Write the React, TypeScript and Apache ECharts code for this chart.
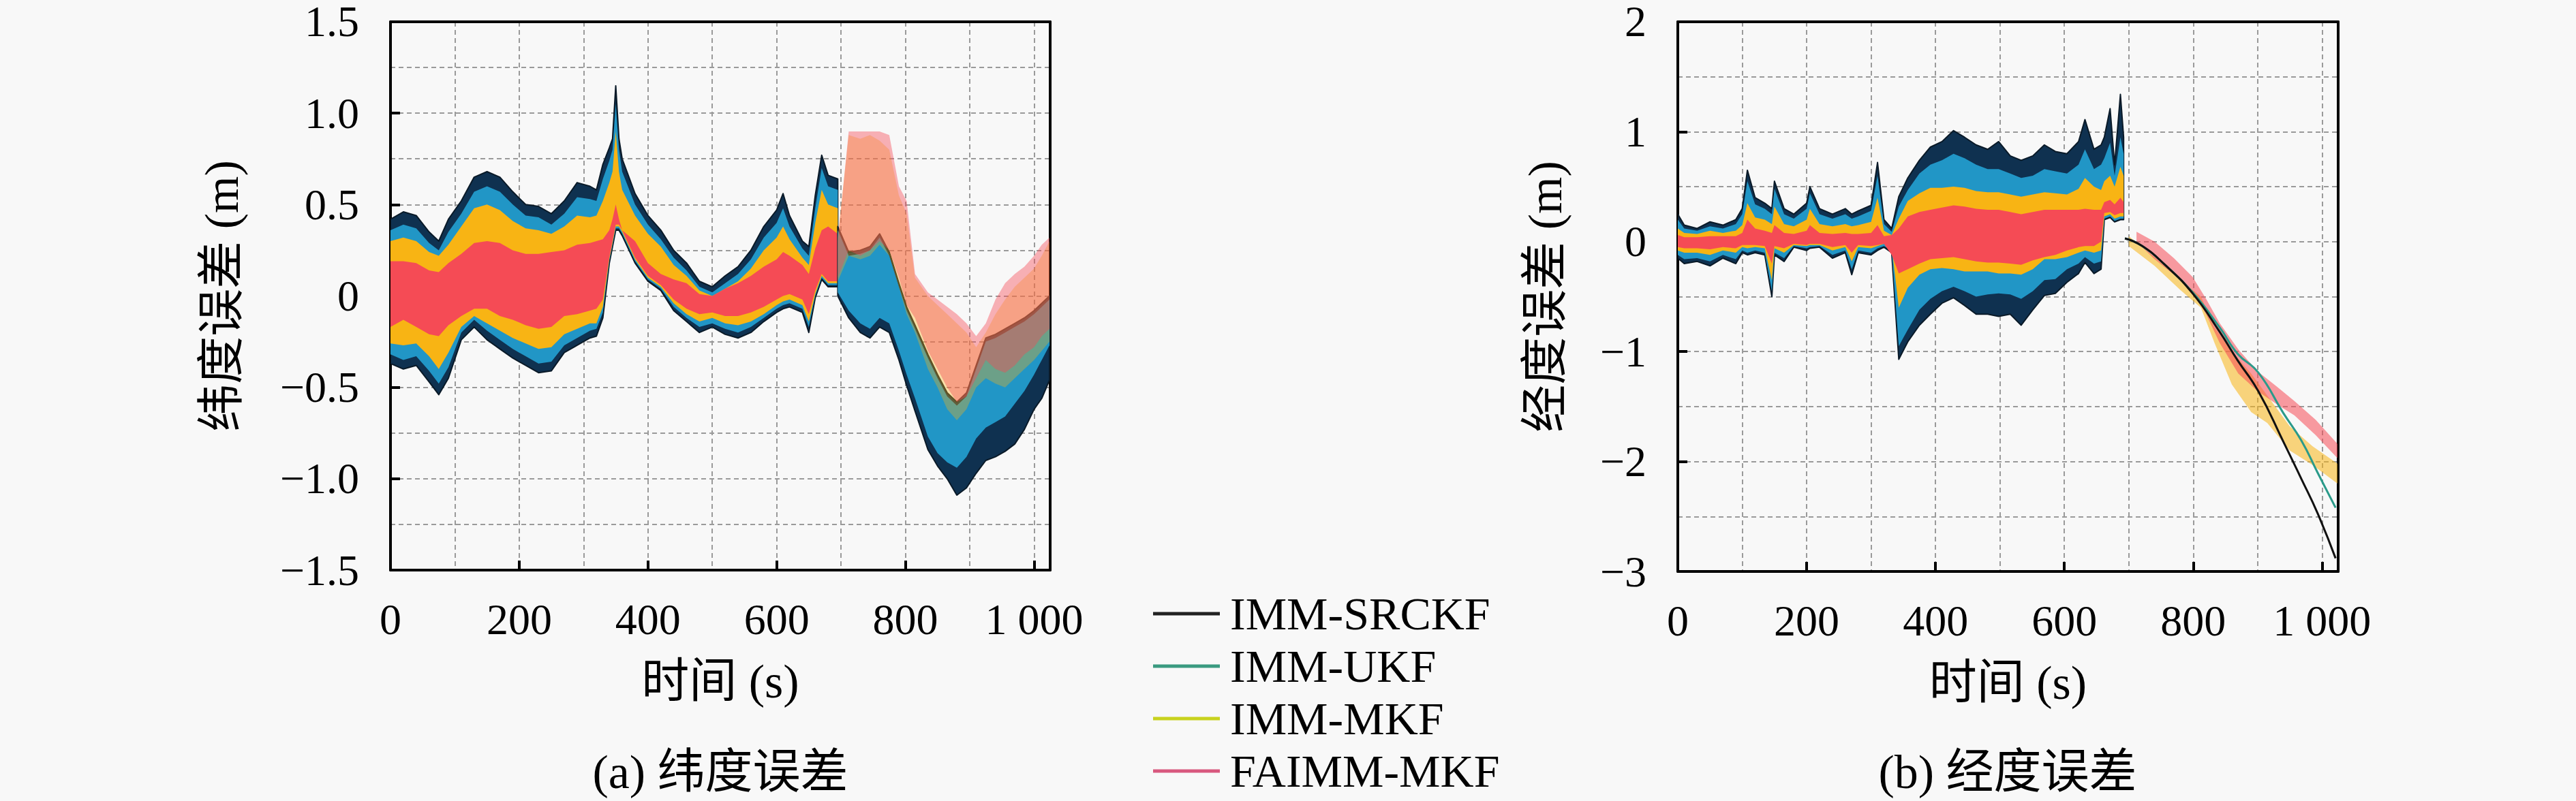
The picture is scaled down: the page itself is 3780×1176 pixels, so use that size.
import React, { useEffect, useRef } from 'react';
import * as echarts from 'echarts';

const FONT = '"Liberation Serif", "Noto Sans CJK SC", serif';

const NAMES = ['IMM-SRCKF', 'IMM-UKF', 'IMM-MKF', 'FAIMM-MKF'];
const BAND_COLORS = ['#0f3150', '#2196c6', '#f8b414', '#f54b55'];
const LEGEND_COLORS = ['#222222', '#3a9a80', '#c8d21e', '#d8587e'];
const X_TICKS = [0, 200, 400, 600, 800, 1000];

// ---------- (a) latitude error, part 1 (0–695 s) ----------
const LAT_T1 = [0, 20, 40, 60, 75, 90, 110, 130, 150, 170, 190, 210, 230, 250, 270, 290, 310, 320, 330, 340, 345, 350, 355, 360, 380, 400, 420, 440, 460, 480, 500, 520, 540, 560, 580, 600, 610, 620, 640, 650, 660, 670, 680, 695];
const LAT_SRCKF_HI1 = [0.42, 0.46, 0.44, 0.35, 0.30, 0.42, 0.52, 0.65, 0.68, 0.65, 0.57, 0.50, 0.49, 0.45, 0.52, 0.62, 0.60, 0.58, 0.72, 0.81, 0.86, 1.15, 0.86, 0.75, 0.56, 0.44, 0.36, 0.25, 0.18, 0.08, 0.05, 0.11, 0.16, 0.25, 0.38, 0.47, 0.56, 0.44, 0.30, 0.27, 0.55, 0.77, 0.66, 0.64];
const LAT_SRCKF_LO1 = [-0.37, -0.40, -0.38, -0.47, -0.54, -0.45, -0.24, -0.17, -0.24, -0.29, -0.34, -0.38, -0.42, -0.41, -0.31, -0.27, -0.23, -0.22, -0.12, 0.18, 0.27, 0.36, 0.36, 0.33, 0.18, 0.08, 0.03, -0.08, -0.14, -0.20, -0.17, -0.21, -0.23, -0.20, -0.14, -0.09, -0.07, -0.06, -0.09, -0.20, -0.01, 0.09, 0.05, 0.05];
const LAT_UKF_HI1 = [0.36, 0.39, 0.37, 0.29, 0.25, 0.35, 0.45, 0.57, 0.60, 0.57, 0.50, 0.44, 0.43, 0.39, 0.45, 0.54, 0.53, 0.52, 0.64, 0.74, 0.80, 1.05, 0.80, 0.68, 0.50, 0.39, 0.31, 0.21, 0.14, 0.05, 0.02, 0.07, 0.12, 0.20, 0.32, 0.40, 0.48, 0.38, 0.26, 0.22, 0.48, 0.70, 0.60, 0.58];
const LAT_UKF_LO1 = [-0.32, -0.35, -0.33, -0.41, -0.48, -0.39, -0.20, -0.13, -0.19, -0.24, -0.29, -0.33, -0.37, -0.36, -0.27, -0.23, -0.19, -0.18, -0.09, 0.19, 0.28, 0.37, 0.37, 0.34, 0.19, 0.09, 0.04, -0.06, -0.12, -0.17, -0.15, -0.18, -0.20, -0.17, -0.12, -0.07, -0.05, -0.04, -0.07, -0.17, 0.00, 0.10, 0.06, 0.06];
const LAT_MKF_HI1 = [0.30, 0.32, 0.30, 0.24, 0.22, 0.28, 0.38, 0.48, 0.50, 0.47, 0.41, 0.37, 0.36, 0.34, 0.38, 0.44, 0.43, 0.44, 0.52, 0.62, 0.68, 0.90, 0.68, 0.58, 0.44, 0.34, 0.27, 0.17, 0.11, 0.03, 0.00, 0.04, 0.08, 0.15, 0.25, 0.32, 0.38, 0.31, 0.21, 0.17, 0.40, 0.58, 0.50, 0.48];
const LAT_MKF_LO1 = [-0.26, -0.27, -0.26, -0.33, -0.40, -0.31, -0.17, -0.11, -0.15, -0.19, -0.23, -0.26, -0.29, -0.28, -0.21, -0.18, -0.15, -0.15, -0.06, 0.20, 0.29, 0.38, 0.38, 0.35, 0.20, 0.10, 0.05, -0.04, -0.10, -0.14, -0.12, -0.15, -0.16, -0.14, -0.10, -0.05, -0.03, -0.02, -0.05, -0.14, 0.01, 0.11, 0.07, 0.07];
const LAT_FAI_HI1 = [0.19, 0.19, 0.18, 0.14, 0.13, 0.18, 0.23, 0.29, 0.30, 0.29, 0.25, 0.23, 0.23, 0.24, 0.25, 0.28, 0.29, 0.30, 0.31, 0.36, 0.42, 0.50, 0.42, 0.36, 0.30, 0.18, 0.12, 0.09, 0.07, 0.01, 0.00, 0.04, 0.07, 0.11, 0.16, 0.20, 0.24, 0.22, 0.17, 0.12, 0.26, 0.36, 0.38, 0.34];
const LAT_FAI_LO1 = [-0.17, -0.13, -0.17, -0.21, -0.22, -0.16, -0.11, -0.07, -0.07, -0.11, -0.13, -0.16, -0.18, -0.17, -0.11, -0.10, -0.08, -0.07, -0.02, 0.21, 0.30, 0.39, 0.39, 0.36, 0.21, 0.11, 0.06, -0.02, -0.07, -0.10, -0.09, -0.11, -0.11, -0.09, -0.06, -0.02, 0.00, 0.01, -0.02, -0.10, 0.03, 0.12, 0.08, 0.08];

// ---------- (a) latitude error, part 2 (695–1024 s) ----------
const LAT_T2 = [695, 712, 730, 745, 760, 775, 790, 802, 815, 835, 850, 865, 880, 895, 910, 925, 940, 955, 970, 985, 1000, 1012, 1024];
const LAT_SRCKF_HI2 = [0.38, 0.24, 0.25, 0.27, 0.34, 0.24, 0.07, -0.06, -0.16, -0.32, -0.43, -0.53, -0.58, -0.53, -0.38, -0.23, -0.21, -0.18, -0.15, -0.12, -0.08, -0.04, 0.00];
const LAT_SRCKF_LO2 = [0.00, -0.12, -0.20, -0.23, -0.17, -0.20, -0.35, -0.49, -0.63, -0.84, -0.93, -1.00, -1.09, -1.05, -0.97, -0.90, -0.88, -0.85, -0.81, -0.73, -0.62, -0.56, -0.46];
const LAT_UKF_HI2 = [0.36, 0.22, 0.23, 0.25, 0.32, 0.22, 0.05, -0.08, -0.18, -0.34, -0.45, -0.55, -0.60, -0.55, -0.40, -0.25, -0.23, -0.20, -0.17, -0.14, -0.10, -0.06, -0.02];
const LAT_UKF_LO2 = [0.02, -0.08, -0.15, -0.18, -0.12, -0.15, -0.30, -0.43, -0.56, -0.77, -0.86, -0.91, -0.94, -0.88, -0.78, -0.72, -0.69, -0.66, -0.59, -0.52, -0.43, -0.35, -0.27];
const LAT_MKF_HI2 = [0.32, 0.88, 0.86, 0.88, 0.85, 0.80, 0.55, 0.45, 0.10, 0.00, -0.05, -0.10, -0.15, -0.20, -0.28, -0.20, -0.10, -0.02, 0.05, 0.10, 0.15, 0.22, 0.30];
const LAT_MKF_LO2 = [0.08, 0.22, 0.20, 0.22, 0.28, 0.22, 0.05, -0.10, -0.20, -0.40, -0.50, -0.62, -0.68, -0.62, -0.50, -0.45, -0.48, -0.50, -0.45, -0.40, -0.35, -0.30, -0.25];
const LAT_FAI_HI2 = [0.30, 0.90, 0.90, 0.90, 0.90, 0.88, 0.60, 0.52, 0.12, 0.02, -0.02, -0.06, -0.10, -0.15, -0.22, -0.15, -0.02, 0.07, 0.12, 0.16, 0.22, 0.28, 0.32];
const LAT_FAI_LO2 = [0.10, 0.25, 0.22, 0.25, 0.30, 0.25, 0.10, -0.05, -0.12, -0.30, -0.40, -0.50, -0.58, -0.55, -0.45, -0.35, -0.40, -0.42, -0.38, -0.32, -0.28, -0.22, -0.18];

// ---------- (b) longitude error, part 1 (0–692 s) ----------
const LON_T1 = [0, 10, 30, 50, 70, 90, 100, 108, 120, 135, 146, 150, 165, 180, 200, 205, 220, 240, 260, 270, 280, 300, 310, 320, 332, 343, 357, 375, 392, 410, 428, 445, 463, 481, 498, 516, 533, 551, 569, 586, 604, 622, 632, 646, 657, 662, 671, 678, 687, 692];
const LON_SRCKF_HI1 = [0.25, 0.15, 0.12, 0.18, 0.15, 0.20, 0.30, 0.65, 0.40, 0.35, 0.30, 0.55, 0.30, 0.25, 0.35, 0.50, 0.30, 0.25, 0.30, 0.25, 0.28, 0.33, 0.72, 0.20, 0.12, 0.41, 0.58, 0.74, 0.86, 0.91, 1.01, 0.95, 0.88, 0.84, 0.91, 0.78, 0.74, 0.78, 0.88, 0.82, 0.80, 0.91, 1.11, 0.84, 0.88, 0.95, 1.21, 0.70, 1.34, 0.95];
const LON_SRCKF_LO1 = [-0.15, -0.20, -0.18, -0.22, -0.15, -0.20, -0.10, -0.12, -0.10, -0.12, -0.50, -0.12, -0.18, -0.05, -0.08, -0.06, -0.05, -0.15, -0.10, -0.30, -0.10, -0.12, -0.08, -0.05, -0.10, -1.07, -0.91, -0.76, -0.66, -0.56, -0.51, -0.58, -0.66, -0.66, -0.68, -0.66, -0.76, -0.62, -0.49, -0.47, -0.37, -0.29, -0.19, -0.29, -0.25, 0.20, 0.22, 0.18, 0.20, 0.20];
const LON_UKF_HI1 = [0.20, 0.12, 0.10, 0.14, 0.12, 0.16, 0.25, 0.55, 0.34, 0.30, 0.25, 0.48, 0.25, 0.21, 0.30, 0.44, 0.25, 0.21, 0.25, 0.21, 0.23, 0.28, 0.60, 0.16, 0.09, 0.32, 0.47, 0.62, 0.70, 0.74, 0.80, 0.76, 0.70, 0.66, 0.66, 0.62, 0.58, 0.60, 0.66, 0.64, 0.62, 0.70, 0.84, 0.66, 0.70, 0.76, 0.90, 0.60, 0.95, 0.80];
const LON_UKF_LO1 = [-0.12, -0.16, -0.15, -0.18, -0.12, -0.16, -0.08, -0.10, -0.08, -0.10, -0.45, -0.10, -0.15, -0.04, -0.06, -0.05, -0.04, -0.12, -0.08, -0.25, -0.08, -0.10, -0.06, -0.04, -0.08, -0.95, -0.80, -0.62, -0.52, -0.45, -0.41, -0.45, -0.50, -0.48, -0.47, -0.48, -0.52, -0.45, -0.35, -0.34, -0.25, -0.20, -0.14, -0.20, -0.18, 0.21, 0.23, 0.19, 0.21, 0.21];
const LON_MKF_HI1 = [0.12, 0.08, 0.07, 0.10, 0.08, 0.10, 0.15, 0.35, 0.22, 0.20, 0.16, 0.32, 0.16, 0.14, 0.20, 0.30, 0.16, 0.14, 0.16, 0.14, 0.15, 0.18, 0.40, 0.10, 0.06, 0.21, 0.37, 0.44, 0.49, 0.49, 0.50, 0.49, 0.46, 0.45, 0.45, 0.43, 0.41, 0.43, 0.45, 0.44, 0.43, 0.48, 0.58, 0.50, 0.47, 0.55, 0.60, 0.50, 0.68, 0.60];
const LON_MKF_LO1 = [-0.08, -0.10, -0.10, -0.12, -0.08, -0.10, -0.05, -0.06, -0.05, -0.06, -0.35, -0.06, -0.10, -0.03, -0.04, -0.03, -0.03, -0.08, -0.05, -0.18, -0.05, -0.06, -0.04, -0.02, -0.05, -0.60, -0.42, -0.30, -0.25, -0.24, -0.25, -0.27, -0.27, -0.27, -0.29, -0.29, -0.30, -0.25, -0.16, -0.16, -0.14, -0.10, -0.08, -0.10, -0.08, 0.23, 0.25, 0.21, 0.23, 0.23];
const LON_FAI_HI1 = [0.06, 0.04, 0.04, 0.05, 0.05, 0.05, 0.08, 0.20, 0.12, 0.10, 0.08, 0.15, 0.08, 0.07, 0.10, 0.15, 0.08, 0.07, 0.08, 0.07, 0.07, 0.08, 0.15, 0.05, 0.06, 0.12, 0.23, 0.27, 0.29, 0.31, 0.33, 0.32, 0.30, 0.29, 0.29, 0.27, 0.25, 0.27, 0.29, 0.29, 0.29, 0.29, 0.30, 0.29, 0.29, 0.36, 0.38, 0.34, 0.40, 0.36];
const LON_FAI_LO1 = [-0.05, -0.06, -0.06, -0.07, -0.05, -0.06, -0.03, -0.03, -0.03, -0.04, -0.20, -0.04, -0.06, -0.02, -0.03, -0.02, -0.02, -0.05, -0.03, -0.10, -0.03, -0.04, -0.03, -0.02, -0.12, -0.29, -0.25, -0.20, -0.16, -0.15, -0.14, -0.16, -0.18, -0.19, -0.19, -0.20, -0.21, -0.17, -0.14, -0.12, -0.08, -0.05, -0.04, -0.04, 0.00, 0.26, 0.27, 0.24, 0.26, 0.26];

// ---------- (b) longitude error, part 2 (694–1024 s) ----------
const LON_LINE_T = [694, 721, 756, 799, 841, 869, 901, 940, 968, 993, 1021];
const LON_SRCKF_LINE = [0.03, -0.04, -0.21, -0.47, -0.82, -1.08, -1.36, -1.82, -2.16, -2.47, -2.88];
const LON_UKF_LINE = [0.03, -0.04, -0.21, -0.46, -0.78, -1.02, -1.19, -1.56, -1.81, -2.10, -2.42];
const LON_MKF_T2 = [700, 740, 780, 812, 833, 860, 890, 915, 950, 985, 1024];
const LON_MKF_HI2 = [0.05, -0.14, -0.35, -0.50, -0.78, -1.00, -1.20, -1.40, -1.68, -1.86, -2.02];
const LON_MKF_LO2 = [-0.04, -0.22, -0.44, -0.60, -0.92, -1.30, -1.55, -1.65, -1.90, -2.03, -2.20];
const LON_FAI_T2 = [712, 740, 770, 799, 820, 841, 870, 900, 930, 957, 990, 1024];
const LON_FAI_HI2 = [0.09, 0.00, -0.15, -0.32, -0.52, -0.74, -0.98, -1.18, -1.32, -1.45, -1.62, -1.84];
const LON_FAI_LO2 = [0.00, -0.16, -0.30, -0.45, -0.66, -0.92, -1.20, -1.36, -1.48, -1.58, -1.76, -1.97];

const MINUS = '\u2212';
const fmtLat = (v: number) => (Math.abs(v) < 1e-9 ? '0' : (v < 0 ? MINUS : '') + Math.abs(v).toFixed(1));
const fmtLon = (v: number) => (Math.abs(v) < 1e-9 ? '0' : (v < 0 ? MINUS : '') + String(Math.abs(Math.round(v))));
const fmtT = (v: number) => {
  if (X_TICKS.indexOf(Math.round(v)) < 0 || Math.abs(v - Math.round(v)) > 1e-6) return '';
  return v === 1000 ? '1 000' : String(v);
};

function band(name: string, g: number, t: number[], lo: number[], hi: number[], color: string, opacity = 1, stroke?: string) {
  const data = t.map((x, i) => [x, lo[i], hi[i]]);
  return {
    type: 'custom',
    name,
    xAxisIndex: g * 2,
    yAxisIndex: g * 2,
    data,
    clip: true,
    silent: true,
    encode: { x: 0, y: [1, 2] },
    renderItem: (params: any, api: any) => {
      if (params.dataIndex !== 0) return null;
      const up = data.map((d) => api.coord([d[0], d[2]]));
      const dn = data.map((d) => api.coord([d[0], d[1]])).reverse();
      return {
        type: 'polygon',
        shape: { points: up.concat(dn) },
        style: stroke
          ? { fill: color, opacity, stroke, lineWidth: 2, lineJoin: 'round' }
          : { fill: color, opacity },
      };
    },
  };
}

function lineSeries(name: string, g: number, t: number[], v: number[], color: string) {
  return {
    type: 'line',
    name,
    xAxisIndex: g * 2,
    yAxisIndex: g * 2,
    data: t.map((x, i) => [x, v[i]]),
    showSymbol: false,
    smooth: true,
    silent: true,
    lineStyle: { color, width: 3 },
    itemStyle: { color },
  };
}

const gridLine = { show: true, lineStyle: { color: '#9a9a9a', width: 2, type: [7, 5] } };
const frame = { show: true, onZero: false, lineStyle: { color: '#000', width: 4 } };
const tick = { show: true, inside: true, length: 14, lineStyle: { color: '#000', width: 4 } };
const labelStyle = { color: '#000', fontSize: 64, fontFamily: FONT };
const nameStyle = { color: '#000', fontSize: 70, fontFamily: FONT };

function axesFor(g: number, yMin: number, yMax: number, yInt: number, yMinor: number, yFmt: (v: number) => string, yName: string, yNameGap: number) {
  const xs = [
    {
      type: 'value', gridIndex: g, min: 0, max: 1025, interval: 200, position: 'bottom',
      axisLine: frame, axisTick: tick, splitLine: { show: false },
      axisLabel: { ...labelStyle, margin: 40, formatter: fmtT, showMaxLabel: true },
      name: '时间 (s)', nameLocation: 'middle', nameGap: 128, nameTextStyle: nameStyle,
    },
    {
      type: 'value', gridIndex: g, min: 0, max: 1025, interval: 100, position: 'top',
      axisLine: frame, axisTick: { show: false }, axisLabel: { show: false }, splitLine: gridLine,
    },
  ];
  const ys = [
    {
      type: 'value', gridIndex: g, min: yMin, max: yMax, interval: yInt, position: 'left',
      axisLine: frame, axisTick: tick, splitLine: { show: false },
      axisLabel: { ...labelStyle, lineHeight: 50, margin: 46, formatter: yFmt },
      name: yName, nameLocation: 'middle', nameGap: yNameGap, nameTextStyle: nameStyle,
    },
    {
      type: 'value', gridIndex: g, min: yMin, max: yMax, interval: yMinor, position: 'right',
      axisLine: frame, axisTick: { show: false }, axisLabel: { show: false }, splitLine: gridLine,
    },
  ];
  return { xs, ys };
}

function buildOption() {
  const a = axesFor(0, -1.5, 1.5, 0.5, 0.25, fmtLat, '纬度误差 (m)', 213);
  const b = axesFor(1, -3, 2, 1, 0.5, fmtLon, '经度误差 (m)', 160);
  const series: any[] = [
    // (a) part 1
    band(NAMES[0], 0, LAT_T1, LAT_SRCKF_LO1, LAT_SRCKF_HI1, BAND_COLORS[0], 1, '#0a1a28'),
    band(NAMES[1], 0, LAT_T1, LAT_UKF_LO1, LAT_UKF_HI1, BAND_COLORS[1]),
    band(NAMES[2], 0, LAT_T1, LAT_MKF_LO1, LAT_MKF_HI1, BAND_COLORS[2]),
    band(NAMES[3], 0, LAT_T1, LAT_FAI_LO1, LAT_FAI_HI1, BAND_COLORS[3]),
    // (a) part 2
    band(NAMES[0], 0, LAT_T2, LAT_SRCKF_LO2, LAT_SRCKF_HI2, BAND_COLORS[0], 1, '#0a1a28'),
    band(NAMES[1], 0, LAT_T2, LAT_UKF_LO2, LAT_UKF_HI2, BAND_COLORS[1]),
    band(NAMES[2], 0, LAT_T2, LAT_MKF_LO2, LAT_MKF_HI2, BAND_COLORS[2], 0.35),
    band(NAMES[3], 0, LAT_T2, LAT_FAI_LO2, LAT_FAI_HI2, BAND_COLORS[3], 0.42),
    // (b) part 1
    band(NAMES[0], 1, LON_T1, LON_SRCKF_LO1, LON_SRCKF_HI1, BAND_COLORS[0], 1, '#0a1a28'),
    band(NAMES[1], 1, LON_T1, LON_UKF_LO1, LON_UKF_HI1, BAND_COLORS[1]),
    band(NAMES[2], 1, LON_T1, LON_MKF_LO1, LON_MKF_HI1, BAND_COLORS[2]),
    band(NAMES[3], 1, LON_T1, LON_FAI_LO1, LON_FAI_HI1, BAND_COLORS[3]),
    // (b) part 2
    band(NAMES[2], 1, LON_MKF_T2, LON_MKF_LO2, LON_MKF_HI2, BAND_COLORS[2], 0.55),
    band(NAMES[3], 1, LON_FAI_T2, LON_FAI_LO2, LON_FAI_HI2, BAND_COLORS[3], 0.55),
    lineSeries(NAMES[1], 1, LON_LINE_T, LON_UKF_LINE, '#2a9a8a'),
    lineSeries(NAMES[0], 1, LON_LINE_T, LON_SRCKF_LINE, '#111111'),
  ];

  return {
    animation: false,
    backgroundColor: '#f8f8f8',
    textStyle: { fontFamily: FONT },
    grid: [
      { left: 573, top: 30, width: 968, height: 807, containLabel: false },
      { left: 2462, top: 29, width: 969, height: 810, containLabel: false },
    ],
    xAxis: [...a.xs, ...b.xs],
    yAxis: [...a.ys, ...b.ys],
    legend: {
      orient: 'vertical',
      left: 1692,
      top: 866,
      height: 310,
      padding: 0,
      itemWidth: 98,
      itemHeight: 5,
      itemGap: 7,
      icon: 'rect',
      selectedMode: false,
      textStyle: { color: '#000', fontSize: 68, lineHeight: 70, fontFamily: FONT, padding: [0, 0, 0, 10] },
      data: NAMES.map((n, i) => ({ name: n, icon: 'rect', itemStyle: { color: LEGEND_COLORS[i], borderWidth: 0 } })),
    },
    graphic: [
      { type: 'text', x: 1057, y: 1133, style: { text: '(a) 纬度误差', fill: '#000', fontSize: 70, fontFamily: FONT, align: 'center', verticalAlign: 'middle' } },
      { type: 'text', x: 2946, y: 1133, style: { text: '(b) 经度误差', fill: '#000', fontSize: 70, fontFamily: FONT, align: 'center', verticalAlign: 'middle' } },
    ],
    series,
  };
}

export default function App() {
  const ref = useRef<HTMLDivElement>(null);
  useEffect(() => {
    if (!ref.current) return;
    const chart = echarts.init(ref.current, undefined, { renderer: 'svg' });
    chart.setOption(buildOption() as any);
    return () => chart.dispose();
  }, []);
  return <div ref={ref} style={{ position: 'absolute', left: 0, top: 0, width: 3780, height: 1176 }} />;
}
